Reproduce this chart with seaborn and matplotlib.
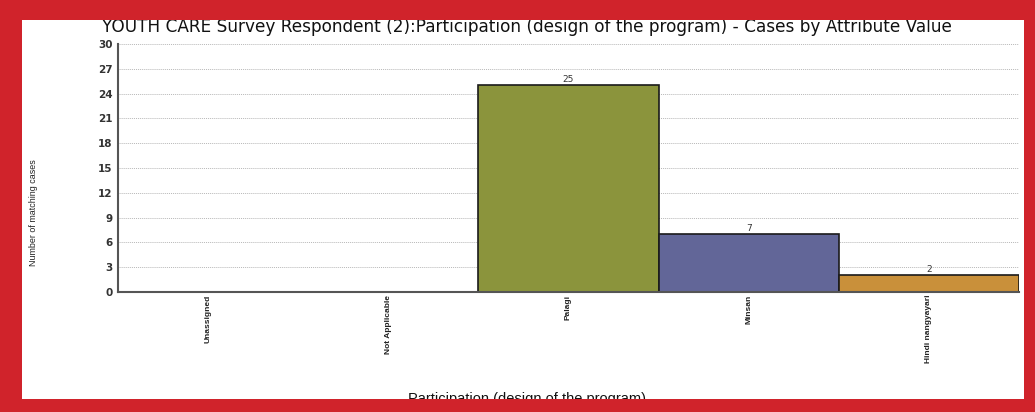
import matplotlib
matplotlib.use("Agg")
import matplotlib.pyplot as plt
from matplotlib.patches import Rectangle
import seaborn as sns
import pandas as pd

# Survey responses per attribute value
categories = ["Unassigned", "Not Applicable", "Palagi", "Minsan", "Hindi nangyayari"]
cases = [0, 0, 25, 7, 2]
bar_colors = ["#8b8b8b", "#8b8b8b", "#8b943c", "#626698", "#c9903a"]
y_ticks = [0, 3, 6, 9, 12, 15, 18, 21, 24, 27, 30]

title = ("YOUTH CARE Survey Respondent (2):Participation (design of the program)"
         " - Cases by Attribute Value")
x_label = "Participation (design of the program)"
y_label = "Number of matching cases"

sns.set_theme(style="white")
plt.rcParams["font.family"] = ["Liberation Sans", "DejaVu Sans"]
narrow = ["Liberation Sans Narrow", "Liberation Sans", "DejaVu Sans"]
wide = ["DejaVu Sans"]

W, H = 1035, 412
fig = plt.figure(figsize=(W / 100, H / 100), dpi=100, facecolor="white")
ax = fig.add_axes([118 / W, (H - 292) / H, (1019 - 118) / W, (292 - 44) / H])

df = pd.DataFrame({"category": categories, "cases": cases})
sns.barplot(data=df, x="category", y="cases", hue="category",
            palette=dict(zip(categories, bar_colors)), order=categories,
            width=1.0, edgecolor="#1a1a1a", linewidth=1.2, legend=False,
            saturation=1, ax=ax)

# value labels above non-empty bars
for cont in ax.containers:
    labels = [f"{int(b.get_height())}" if b.get_height() > 0 else "" for b in cont]
    ax.bar_label(cont, labels=labels, fontsize=6.5, color="#333333", padding=1,
                 family=wide)

ax.set_xlim(-0.5, len(categories) - 0.5)
ax.set_ylim(0, 30)
ax.set_yticks(y_ticks)
ax.set_yticklabels([str(t) for t in y_ticks], fontsize=7.5, fontweight="bold",
                   color="#333333", family=wide)
ax.set_xticks(range(len(categories)))
ax.set_xticklabels(categories, rotation=90, fontsize=6.0, color="#222222",
                   family=narrow, va="top", fontweight="bold")
ax.tick_params(axis="both", length=0)
ax.tick_params(axis="y", pad=4)
ax.tick_params(axis="x", pad=2)

ax.yaxis.grid(True, linestyle=(0, (1, 1)), color="#b8b8b8", linewidth=0.7)
ax.set_axisbelow(True)
for side in ("top", "right"):
    ax.spines[side].set_visible(False)
for side in ("left", "bottom"):
    ax.spines[side].set_color("#555555")
    ax.spines[side].set_linewidth(1.5)

ax.set_xlabel("")
ax.set_ylabel("")
fig.text(527 / W, (H - 27) / H, title, ha="center", va="center",
         fontsize=12.2, color="#111111", family=wide)
fig.text(33 / W, (H - 213) / H, y_label, rotation=90, ha="center", va="center",
         fontsize=6.4, color="#222222", family=narrow)
fig.text(527 / W, (H - 392) / H, x_label, ha="center", va="top",
         fontsize=10.5, color="#111111")

# red frame around the chart
red = "#d0232b"
frame = [
    (0, 0, W, H - 399),          # bottom band
    (0, H - 20, W, 20),          # top band
    (0, 0, 22, H),               # left band
    (1024, 0, W - 1024, H),      # right band
]
for x0, y0, w, h in frame:
    fig.add_artist(Rectangle((x0 / W, y0 / H), w / W, h / H,
                             transform=fig.transFigure, facecolor=red,
                             edgecolor="none", zorder=10))

fig.savefig("out.png", dpi=100, facecolor="white")
